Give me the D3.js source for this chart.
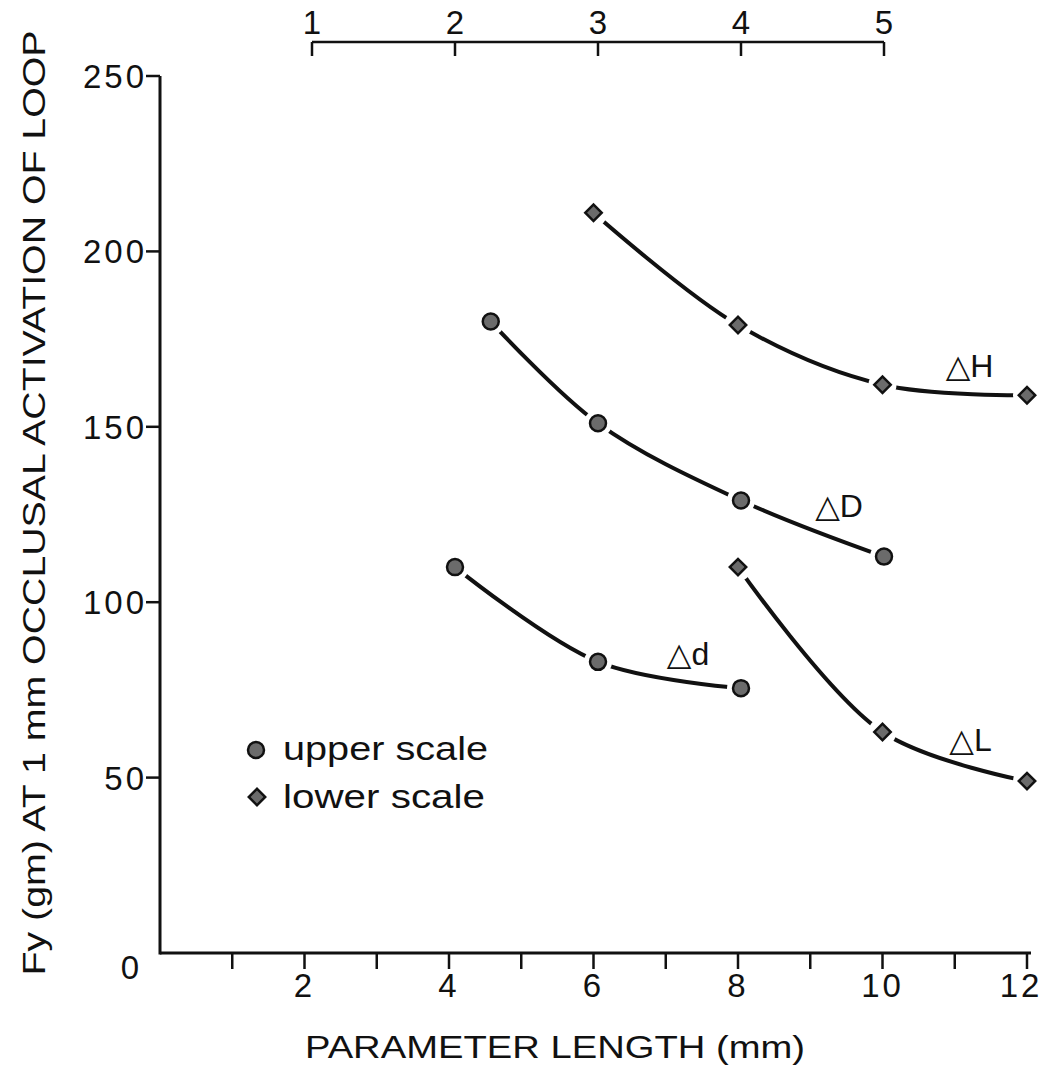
<!DOCTYPE html>
<html>
<head>
<meta charset="utf-8">
<script src="https://cdn.jsdelivr.net/npm/d3@7"></script>
<style>
  body { margin: 0; background: #fff; }
  svg text { font-family: "Liberation Sans", Arial, "DejaVu Sans", sans-serif; fill: #111; }
</style>
</head>
<body>
<script>
// series
var seriesNames = ["\u25B3H", "\u25B3D", "\u25B3d", "\u25B3L"];
var seriesScale = ["lower", "upper", "upper", "lower"];
var hX = [6, 8, 10, 12],     hY = [211, 179, 162, 159];
var bigDX = [2.25, 3, 4, 5], bigDY = [180, 151, 129, 113];
var smallDX = [2, 3, 4],     smallDY = [110, 83, 75.5];
var lX = [8, 10, 12],        lY = [110, 63, 49];

var lowerTicks = [1, 2, 3, 4, 5, 6, 7, 8, 9, 10, 11, 12];
var lowerLabels = [2, 4, 6, 8, 10, 12];
var upperTicks = [1, 2, 3, 4, 5];
var yTicks = [0, 50, 100, 150, 200, 250];

var width = 1044, height = 1072;

var svg = d3.select("body").append("svg")
    .attr("width", width)
    .attr("height", height);

var x = d3.scaleLinear().domain([0, 12]).range([160, 1027]);
var xu = d3.scaleLinear().domain([1, 5]).range([312, 884]);
var y = d3.scaleLinear().domain([0, 250]).range([953, 76]);

var tickFont = "33px";

// bottom axis
var bottom = svg.append("g").attr("transform", "translate(0," + y(0) + ")");
bottom.append("line")
    .attr("x1", x(0)).attr("x2", x(12) + 4)
    .attr("stroke", "#111").attr("stroke-width", 3);
bottom.selectAll(".tk").data(lowerTicks).enter().append("line")
    .attr("x1", function(d){ return x(d); })
    .attr("x2", function(d){ return x(d); })
    .attr("y1", 0).attr("y2", 16)
    .attr("stroke", "#111").attr("stroke-width", 2.5);
bottom.selectAll(".lb").data(lowerLabels).enter().append("text")
    .attr("x", function(d){ return x(d) - (d == 12 ? 6 : 0); })
    .attr("y", 44)
    .attr("text-anchor", "middle")
    .style("font-size", tickFont)
    .style("letter-spacing", "3px")
    .text(function(d){ return d; });

// left axis
var leftAxis = svg.append("g").attr("transform", "translate(" + x(0) + ",0)");
leftAxis.append("line")
    .attr("y1", y(0) + 1.5).attr("y2", y(250))
    .attr("stroke", "#111").attr("stroke-width", 3);
leftAxis.selectAll(".tk").data(yTicks.filter(function(d){ return d > 0; })).enter().append("line")
    .attr("x1", -14).attr("x2", 0)
    .attr("y1", function(d){ return y(d); })
    .attr("y2", function(d){ return y(d); })
    .attr("stroke", "#111").attr("stroke-width", 2.5);
leftAxis.selectAll(".lb").data(yTicks).enter().append("text")
    .attr("x", function(d){ return d == 0 ? -18 : -13; })
    .attr("y", function(d){ return y(d) + (d == 0 ? 26 : 12); })
    .attr("text-anchor", "end")
    .style("font-size", tickFont)
    .style("letter-spacing", "3px")
    .text(function(d){ return d; });

// upper axis
var upperAxis = svg.append("g").attr("transform", "translate(0,42)");
upperAxis.append("line")
    .attr("x1", xu(1)).attr("x2", xu(5))
    .attr("stroke", "#111").attr("stroke-width", 2.5);
upperAxis.selectAll(".tk").data(upperTicks).enter().append("line")
    .attr("x1", function(d){ return xu(d); })
    .attr("x2", function(d){ return xu(d); })
    .attr("y1", 0).attr("y2", 14)
    .attr("stroke", "#111").attr("stroke-width", 2.5);
upperAxis.selectAll(".lb").data(upperTicks).enter().append("text")
    .attr("x", function(d){ return xu(d); })
    .attr("y", -8)
    .attr("text-anchor", "middle")
    .style("font-size", tickFont)
    .text(function(d){ return d; });

// axis titles
svg.append("text")
    .attr("x", 555).attr("y", 1058)
    .attr("text-anchor", "middle")
    .style("font-size", "32px")
    .attr("textLength", 500)
    .attr("lengthAdjust", "spacingAndGlyphs")
    .text("PARAMETER LENGTH (mm)");

svg.append("text")
    .attr("transform", "translate(45,503) rotate(-90)")
    .attr("text-anchor", "middle")
    .style("font-size", "32px")
    .attr("textLength", 945)
    .attr("lengthAdjust", "spacingAndGlyphs")
    .text("Fy (gm) AT 1 mm OCCLUSAL ACTIVATION OF LOOP");

// curves
var series = [
    {xs: hX, ys: hY},
    {xs: bigDX, ys: bigDY},
    {xs: smallDX, ys: smallDY},
    {xs: lX, ys: lY}
];

var line = d3.line().curve(d3.curveCatmullRom.alpha(0.5));

var pts = series.map(function(s, i){
    var sx = seriesScale[i] == "upper" ? xu : x;
    return s.xs.map(function(v, j){ return [sx(v), y(s.ys[j])]; });
});

svg.selectAll(".curve").data(pts).enter().append("path")
    .attr("class", "curve")
    .attr("d", line)
    .attr("fill", "none")
    .attr("stroke", "#111")
    .attr("stroke-width", 4);

// white halos so the curves stop short of the markers
var allPts = [];
pts.forEach(function(p, i){
    p.forEach(function(q){ allPts.push({p: q, kind: seriesScale[i]}); });
});

svg.selectAll(".halo").data(allPts).enter().append("circle")
    .attr("cx", function(d){ return d.p[0]; })
    .attr("cy", function(d){ return d.p[1]; })
    .attr("r", 14)
    .attr("fill", "#fff");

function drawMarker(sel, kind, cx, cy) {
    if (kind == "upper") {
        sel.append("circle")
            .attr("cx", cx).attr("cy", cy).attr("r", 8)
            .attr("fill", "#6b6b6b").attr("stroke", "#111").attr("stroke-width", 2.5);
    } else {
        sel.append("path")
            .attr("d", d3.symbol().type(d3.symbolSquare).size(135)())
            .attr("transform", "translate(" + cx + "," + cy + ") rotate(45)")
            .attr("fill", "#6b6b6b").attr("stroke", "#111").attr("stroke-width", 2.5);
    }
}

var marks = svg.append("g");
allPts.forEach(function(d){ drawMarker(marks, d.kind, d.p[0], d.p[1]); });

// series labels, placed next to one point of each curve
var labelPoint = [2, 3, 1, 1];
var labelOffset = [[87, -8], [-45, -40], [90, 3], [88, 19]];
seriesNames.forEach(function(name, i){
    var p = pts[i][labelPoint[i]];
    var off = labelOffset[i];
    svg.append("text")
        .attr("x", p[0] + off[0])
        .attr("y", p[1] + off[1])
        .attr("text-anchor", "middle")
        .style("font-size", "32px")
        .text(name);
});

// legend
var legend = svg.append("g");
drawMarker(legend, "upper", 256, 750);
drawMarker(legend, "lower", 257, 797);
legend.append("text").attr("x", 283).attr("y", 760)
    .style("font-size", "33px")
    .attr("textLength", 205).attr("lengthAdjust", "spacingAndGlyphs")
    .text("upper scale");
legend.append("text").attr("x", 283).attr("y", 808)
    .style("font-size", "33px")
    .attr("textLength", 202).attr("lengthAdjust", "spacingAndGlyphs")
    .text("lower scale");
</script>
</body>
</html>
